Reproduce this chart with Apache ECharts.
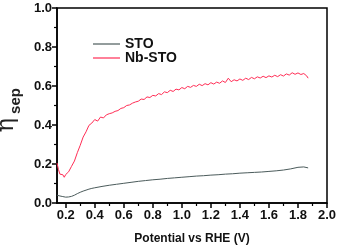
<!DOCTYPE html>
<html>
<head>
<meta charset="utf-8">
<script src="https://cdn.jsdelivr.net/npm/echarts@6/dist/echarts.min.js"></script>
<style>html,body{margin:0;padding:0;background:#fff}#c{width:340px;height:250px}</style>
</head>
<body>
<div id="c"></div>
<script>
const seriesNames = ['STO', 'Nb-STO'];
const xTickLabels = [0.2, 0.4, 0.6, 0.8, 1.0, 1.2, 1.4, 1.6, 1.8, 2.0];
const xMinorTicks = [0.3, 0.5, 0.7, 0.9, 1.1, 1.3, 1.5, 1.7, 1.9];
const stoX = [0.14,0.16,0.18,0.20,0.22,0.24,0.26,0.28,0.30,0.32,0.34,0.36,0.38,0.40,0.45,0.50,0.55,0.60,0.65,0.70,0.75,0.80,0.85,0.90,0.95,1.00,1.05,1.10,1.15,1.20,1.25,1.30,1.35,1.40,1.45,1.50,1.55,1.60,1.65,1.70,1.75,1.80,1.84,1.87];
const stoY = [0.040,0.036,0.033,0.030,0.031,0.034,0.040,0.048,0.055,0.061,0.066,0.071,0.075,0.078,0.085,0.091,0.096,0.101,0.106,0.111,0.115,0.119,0.122,0.126,0.129,0.132,0.135,0.138,0.140,0.143,0.145,0.148,0.150,0.153,0.155,0.157,0.159,0.162,0.165,0.169,0.175,0.183,0.185,0.180];
const nbX = [0.14,0.15,0.16,0.17,0.18,0.19,0.20,0.22,0.24,0.26,0.28,0.30,0.32,0.34,0.36,0.38,0.40,0.42,0.44,0.46,0.48,0.50,0.52,0.54,0.56,0.58,0.60,0.62,0.64,0.66,0.68,0.70,0.72,0.74,0.76,0.78,0.80,0.82,0.84,0.86,0.88,0.90,0.92,0.94,0.96,0.98,1.00,1.02,1.04,1.06,1.08,1.10,1.12,1.14,1.16,1.18,1.20,1.22,1.24,1.26,1.28,1.30,1.32,1.34,1.36,1.38,1.40,1.42,1.44,1.46,1.48,1.50,1.52,1.54,1.56,1.58,1.60,1.62,1.64,1.66,1.68,1.70,1.72,1.74,1.76,1.78,1.80,1.82,1.84,1.86,1.87];
const nbY = [0.205,0.172,0.148,0.138,0.145,0.132,0.146,0.160,0.188,0.215,0.258,0.296,0.338,0.365,0.398,0.410,0.428,0.420,0.441,0.436,0.452,0.458,0.462,0.470,0.474,0.485,0.489,0.500,0.503,0.512,0.518,0.522,0.533,0.531,0.544,0.541,0.552,0.549,0.561,0.556,0.570,0.566,0.578,0.572,0.584,0.580,0.592,0.586,0.598,0.593,0.603,0.598,0.609,0.602,0.612,0.606,0.617,0.610,0.620,0.614,0.626,0.618,0.640,0.622,0.632,0.626,0.636,0.629,0.640,0.633,0.644,0.637,0.647,0.641,0.650,0.643,0.652,0.646,0.655,0.648,0.658,0.651,0.662,0.656,0.668,0.660,0.667,0.659,0.664,0.652,0.640];

const pair = (xs, ys) => xs.map((x, i) => [x, ys[i]]);
const chart = echarts.init(document.getElementById('c'), null, {renderer: 'canvas'});
const FONT = 'Liberation Sans';
chart.setOption({
  animation: false,
  backgroundColor: '#fff',
  grid: {left: 57, right: 13, top: 8, bottom: 42, show: true, borderColor: '#000', borderWidth: 1.5},
  legend: {
    data: seriesNames, orient: 'vertical', left: 88, top: 32,
    icon: 'rect', itemWidth: 27, itemHeight: 1.2, itemGap: 0,
    textStyle: {fontFamily: FONT, fontSize: 14, fontWeight: 'bold', color: '#111', lineHeight: 14}
  },
  xAxis: [{
    type: 'value', min: 0.14, max: 2.0,
    splitLine: {show: false},
    axisLine: {lineStyle: {color: '#000', width: 1.5}},
    axisTick: {customValues: xTickLabels, length: 5, lineStyle: {color: '#000', width: 1.5}},
    axisLabel: {customValues: xTickLabels, margin: 6, formatter: v => v.toFixed(1), fontFamily: FONT, fontSize: 13, fontWeight: 'bold', color: '#111'},
    name: 'Potential vs RHE (V)', nameLocation: 'middle', nameGap: 30,
    nameTextStyle: {fontFamily: FONT, fontSize: 12, fontWeight: 'bold', color: '#111'}
  }, {
    type: 'value', min: 0.14, max: 2.0, position: 'bottom',
    splitLine: {show: false}, axisLine: {show: false},
    axisTick: {customValues: xMinorTicks, length: 3, lineStyle: {color: '#000', width: 1.2}},
    axisLabel: {show: false}
  }],
  yAxis: {
    type: 'value', min: 0, max: 1.0, interval: 0.2,
    splitLine: {show: false},
    axisLine: {lineStyle: {color: '#000', width: 1.5}},
    axisTick: {length: 5, lineStyle: {color: '#000', width: 1.5}},
    minorTick: {show: true, splitNumber: 2, length: 3, lineStyle: {color: '#000', width: 1.2}},
    axisLabel: {margin: 5, formatter: v => v.toFixed(1), fontFamily: FONT, fontSize: 13, fontWeight: 'bold', color: '#111'}
  },
  graphic: [
    {type: 'text', x: 7, y: 125, rotation: Math.PI / 2,
     style: {text: 'η', font: '24px "DejaVu Serif"', fill: '#222', textAlign: 'center', textVerticalAlign: 'middle'}},
    {type: 'text', x: 16, y: 101, rotation: Math.PI / 2,
     style: {text: 'sep', font: 'bold 15px "Liberation Sans"', fill: '#222', textAlign: 'center', textVerticalAlign: 'middle'}}
  ],
  series: [
    {name: 'STO', type: 'line', data: pair(stoX, stoY), symbol: 'none', lineStyle: {color: '#4b5b5b', width: 1}, itemStyle: {color: '#4b5b5b'}},
    {name: 'Nb-STO', type: 'line', data: pair(nbX, nbY), symbol: 'none', lineStyle: {color: '#ff2d55', width: 1}, itemStyle: {color: '#ff2d55'}}
  ]
});
</script>
</body>
</html>
